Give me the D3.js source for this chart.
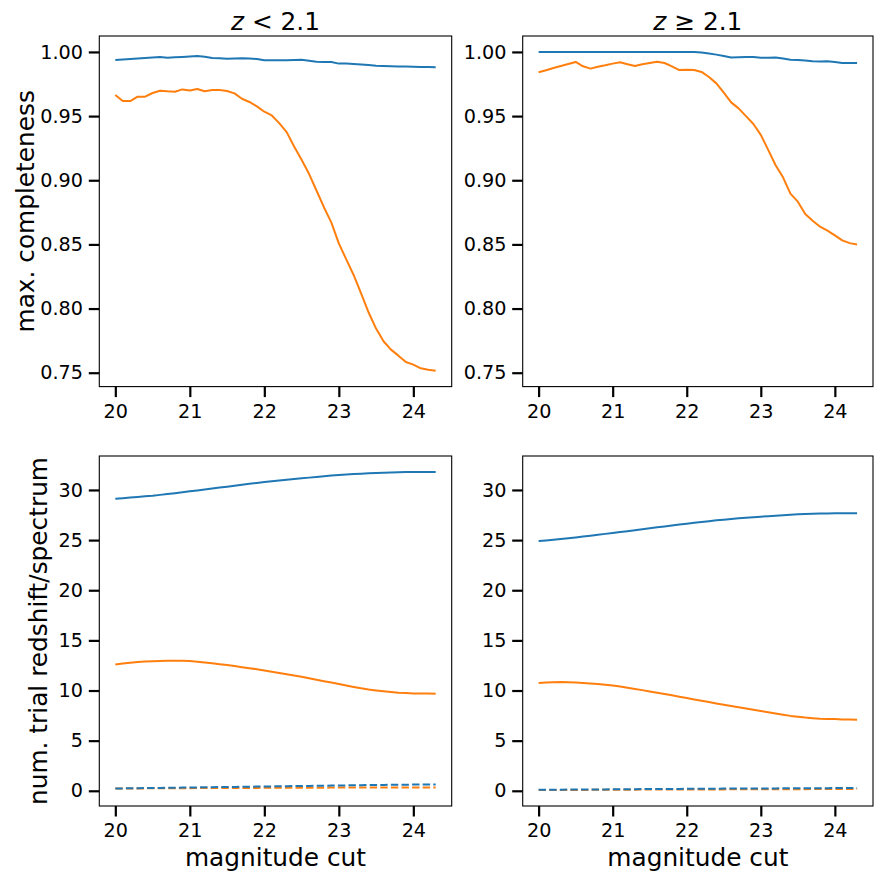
<!DOCTYPE html>
<meta charset="utf-8">
<body style="margin:0;background-color:white;">
<svg width="883" height="881"></svg>
<script src="https://d3js.org/d3.v7.min.js"></script>
<script>

// magnitude cuts (x values, shared by every panel)
var magCuts = [20.0, 20.1, 20.2, 20.3, 20.4, 20.5, 20.6, 20.7, 20.8, 20.9,
               21.0, 21.1, 21.2, 21.3, 21.4, 21.5, 21.6, 21.7, 21.8, 21.9,
               22.0, 22.1, 22.2, 22.3, 22.4, 22.5, 22.6, 22.7, 22.8, 22.9,
               23.0, 23.1, 23.2, 23.3, 23.4, 23.5, 23.6, 23.7, 23.8, 23.9,
               24.0, 24.1, 24.2, 24.3];

// max. completeness, z < 2.1
var complLowBlue = [0.9938, 0.9941, 0.9945, 0.9948, 0.9952, 0.9956, 0.9960, 0.9955, 0.9958, 0.9961,
                    0.9965, 0.9968, 0.9963, 0.9953, 0.9951, 0.9946, 0.9948, 0.9950, 0.9949, 0.9945,
                    0.9935, 0.9935, 0.9935, 0.9936, 0.9938, 0.9940, 0.9932, 0.9924, 0.9922, 0.9921,
                    0.9909, 0.9909, 0.9906, 0.9902, 0.9898, 0.9893, 0.9891, 0.9889, 0.9886, 0.9886,
                    0.9885, 0.9883, 0.9882, 0.9881];
var complLowOrange = [0.9664, 0.9617, 0.9617, 0.9651, 0.9651, 0.9680, 0.9698, 0.9693, 0.9690, 0.9708,
                      0.9700, 0.9711, 0.9693, 0.9703, 0.9703, 0.9695, 0.9677, 0.9635, 0.9610, 0.9576,
                      0.9534, 0.9505, 0.9445, 0.9375, 0.9263, 0.9159, 0.9050, 0.8920, 0.8790, 0.8670,
                      0.8508, 0.8383, 0.8260, 0.8117, 0.7969, 0.7844, 0.7745, 0.7680, 0.7633, 0.7583,
                      0.7563, 0.7534, 0.7523, 0.7516];

// max. completeness, z >= 2.1
var complHighBlue = [1.0, 1.0, 1.0, 1.0, 1.0, 1.0, 1.0, 1.0, 1.0, 1.0,
                     1.0, 1.0, 1.0, 1.0, 1.0, 1.0, 1.0, 1.0, 1.0, 1.0,
                     1.0, 1.0, 0.9995, 0.9987, 0.9979, 0.9968, 0.9956, 0.9958, 0.9961, 0.9961,
                     0.9954, 0.9954, 0.9957, 0.9948, 0.9940, 0.9938, 0.9933, 0.9927, 0.9925, 0.9927,
                     0.9922, 0.9914, 0.9914, 0.9914];
var complHighOrange = [0.9841, 0.9857, 0.9875, 0.9890, 0.9906, 0.9922, 0.9888, 0.9870, 0.9885, 0.9896,
                       0.9909, 0.9919, 0.9904, 0.9890, 0.9904, 0.9914, 0.9924, 0.9914, 0.9888, 0.9859,
                       0.9862, 0.9859, 0.9844, 0.9805, 0.9755, 0.9682, 0.9607, 0.9560, 0.9500, 0.9438,
                       0.9354, 0.9237, 0.9117, 0.9023, 0.8896, 0.8833, 0.8737, 0.8685, 0.8638, 0.8607,
                       0.8570, 0.8531, 0.8510, 0.8500];

// num. trial redshift/spectrum, z < 2.1
var trialLowBlue = [29.13, 29.18, 29.24, 29.30, 29.37, 29.43, 29.51, 29.60, 29.68, 29.77,
                    29.86, 29.95, 30.05, 30.14, 30.24, 30.33, 30.43, 30.52, 30.61, 30.70,
                    30.79, 30.87, 30.95, 31.02, 31.09, 31.16, 31.23, 31.30, 31.37, 31.43,
                    31.49, 31.54, 31.58, 31.62, 31.66, 31.69, 31.72, 31.74, 31.76, 31.78,
                    31.79, 31.80, 31.80, 31.80];
var trialLowOrange = [12.60, 12.70, 12.78, 12.85, 12.90, 12.93, 12.95, 12.97, 12.97, 12.96,
                      12.94, 12.88, 12.80, 12.72, 12.63, 12.54, 12.44, 12.33, 12.23, 12.12,
                      12.00, 11.88, 11.75, 11.62, 11.50, 11.37, 11.23, 11.08, 10.93, 10.79,
                      10.64, 10.50, 10.36, 10.22, 10.10, 10.01, 9.93, 9.85, 9.78, 9.74,
                      9.71, 9.70, 9.69, 9.68];
var trialLowBlueDash = [0.23, 0.24, 0.25, 0.26, 0.27, 0.28, 0.29, 0.30, 0.31, 0.32,
                        0.33, 0.34, 0.35, 0.36, 0.37, 0.38, 0.39, 0.40, 0.41, 0.42,
                        0.43, 0.44, 0.45, 0.46, 0.47, 0.48, 0.49, 0.50, 0.51, 0.52,
                        0.53, 0.54, 0.55, 0.56, 0.57, 0.58, 0.59, 0.60, 0.60, 0.61,
                        0.62, 0.62, 0.63, 0.63];
var trialLowOrangeDash = [0.23, 0.23, 0.24, 0.24, 0.24, 0.25, 0.25, 0.25, 0.26, 0.26,
                          0.26, 0.27, 0.27, 0.27, 0.28, 0.28, 0.28, 0.29, 0.29, 0.29,
                          0.30, 0.30, 0.30, 0.30, 0.31, 0.31, 0.31, 0.31, 0.31, 0.32,
                          0.32, 0.32, 0.32, 0.32, 0.32, 0.33, 0.33, 0.33, 0.33, 0.33,
                          0.33, 0.33, 0.33, 0.33];

// num. trial redshift/spectrum, z >= 2.1
var trialHighBlue = [24.91, 24.97, 25.04, 25.12, 25.19, 25.27, 25.36, 25.44, 25.53, 25.62,
                     25.71, 25.80, 25.89, 25.99, 26.08, 26.17, 26.27, 26.36, 26.46, 26.55,
                     26.64, 26.72, 26.81, 26.89, 26.97, 27.04, 27.11, 27.17, 27.23, 27.29,
                     27.34, 27.39, 27.44, 27.49, 27.53, 27.57, 27.60, 27.63, 27.65, 27.66,
                     27.67, 27.68, 27.68, 27.68];
var trialHighOrange = [10.74, 10.79, 10.82, 10.84, 10.83, 10.81, 10.76, 10.71, 10.65, 10.58,
                       10.51, 10.40, 10.28, 10.16, 10.04, 9.91, 9.78, 9.65, 9.52, 9.38,
                       9.25, 9.11, 8.98, 8.85, 8.71, 8.58, 8.45, 8.33, 8.20, 8.08,
                       7.95, 7.83, 7.70, 7.58, 7.47, 7.38, 7.30, 7.24, 7.19, 7.16,
                       7.15, 7.12, 7.10, 7.08];
var trialHighBlueDash = [0.10, 0.10, 0.11, 0.11, 0.12, 0.12, 0.13, 0.13, 0.14, 0.14,
                         0.15, 0.15, 0.16, 0.16, 0.17, 0.17, 0.18, 0.18, 0.19, 0.19,
                         0.20, 0.20, 0.21, 0.21, 0.21, 0.22, 0.22, 0.23, 0.23, 0.23,
                         0.24, 0.24, 0.24, 0.25, 0.25, 0.25, 0.26, 0.26, 0.26, 0.26,
                         0.27, 0.27, 0.27, 0.27];
var trialHighOrangeDash = [0.07, 0.07, 0.08, 0.08, 0.08, 0.09, 0.09, 0.09, 0.10, 0.10,
                           0.10, 0.11, 0.11, 0.11, 0.12, 0.12, 0.12, 0.12, 0.13, 0.13,
                           0.13, 0.13, 0.14, 0.14, 0.14, 0.14, 0.15, 0.15, 0.15, 0.15,
                           0.15, 0.16, 0.16, 0.16, 0.16, 0.16, 0.16, 0.17, 0.17, 0.17,
                           0.17, 0.17, 0.17, 0.17];

var xTicks = [20, 21, 22, 23, 24];
var complTicks = [0.75, 0.80, 0.85, 0.90, 0.95, 1.00];
var trialTicks = [0, 5, 10, 15, 20, 25, 30];
var titles = ['<', '\u2265'];   // z < 2.1 , z >= 2.1

var blue = '#1f77b4', orange = '#ff7f0e';
var font = 'DejaVu Sans, sans-serif';

var svg = d3.select('svg');

// panel frames
var colX = [[99.3, 451.7], [522.7, 873]];
var rowY = [[36, 386.6], [456, 806]];

// matplotlib-like auto limits with 5% margin
function padExtent(arrays) {
  var all = [].concat.apply([], arrays);
  var lo = d3.min(all), hi = d3.max(all);
  var m = (hi - lo) * 0.05;
  return [lo - m, hi + m];
}

var xDom = padExtent([magCuts]);
var complDom = padExtent([complLowBlue, complLowOrange, complHighBlue, complHighOrange]);
var trialDom = padExtent([trialLowBlue, trialLowOrange, trialLowBlueDash, trialLowOrangeDash,
                          trialHighBlue, trialHighOrange, trialHighBlueDash, trialHighOrangeDash]);

var panels = [
  {row: 0, col: 0, dom: complDom, ticks: complTicks, fmt: d3.format('.2f'),
   series: [[complLowBlue, blue, false], [complLowOrange, orange, false]]},
  {row: 0, col: 1, dom: complDom, ticks: complTicks, fmt: d3.format('.2f'),
   series: [[complHighBlue, blue, false], [complHighOrange, orange, false]]},
  {row: 1, col: 0, dom: trialDom, ticks: trialTicks, fmt: d3.format('d'),
   series: [[trialLowBlue, blue, false], [trialLowOrange, orange, false],
            [trialLowOrangeDash, orange, true], [trialLowBlueDash, blue, true]]},
  {row: 1, col: 1, dom: trialDom, ticks: trialTicks, fmt: d3.format('d'),
   series: [[trialHighBlue, blue, false], [trialHighOrange, orange, false],
            [trialHighOrangeDash, orange, true], [trialHighBlueDash, blue, true]]}
];

panels.forEach(function(p) {
  var x = d3.scaleLinear().domain(xDom).range(colX[p.col]);
  var y = d3.scaleLinear().domain(p.dom).range([rowY[p.row][1], rowY[p.row][0]]);
  var g = svg.append('g');

  var line = d3.line()
               .x(function(d, i) { return x(magCuts[i]); })
               .y(function(d) { return y(d); });

  p.series.forEach(function(s) {
    g.append('path')
     .attr('d', line(s[0]))
     .attr('fill', 'none')
     .attr('stroke', s[1])
     .attr('stroke-width', 2)
     .attr('stroke-linejoin', 'round')
     .attr('stroke-dasharray', s[2] ? '7.4,3.2' : null);
  });

  // frame
  g.append('rect')
   .attr('x', colX[p.col][0]).attr('y', rowY[p.row][0])
   .attr('width', colX[p.col][1] - colX[p.col][0])
   .attr('height', rowY[p.row][1] - rowY[p.row][0])
   .attr('fill', 'none').attr('stroke', 'black').attr('stroke-width', 1.1);

  var xAxis = g.append('g')
               .attr('transform', 'translate(0,' + rowY[p.row][1] + ')')
               .call(d3.axisBottom(x).tickValues(xTicks).tickFormat(d3.format('d'))
                       .tickSize(10.5).tickPadding(7));
  var yAxis = g.append('g')
               .attr('transform', 'translate(' + colX[p.col][0] + ',0)')
               .call(d3.axisLeft(y).tickValues(p.ticks).tickFormat(p.fmt).tickSize(10.5).tickPadding(5.8));

  [xAxis, yAxis].forEach(function(a) {
    a.select('.domain').remove();
    a.selectAll('.tick line').attr('stroke', 'black').attr('stroke-width', 2.2);
    a.selectAll('.tick text').attr('fill', 'black')
     .style('font-family', font).style('font-size', '19.2px');
  });
});

// column titles
colX.forEach(function(cx, i) {
  var t = svg.append('text')
             .attr('x', (cx[0] + cx[1]) / 2)
             .attr('y', 29.5)
             .attr('text-anchor', 'middle')
             .style('font-family', font).style('font-size', '24.8px');
  t.append('tspan').style('font-style', 'italic').text('z');
  t.append('tspan').text(' ' + titles[i] + ' 2.1');
});

// x labels
colX.forEach(function(cx) {
  svg.append('text')
     .attr('x', (cx[0] + cx[1]) / 2)
     .attr('y', 866)
     .attr('text-anchor', 'middle')
     .style('font-family', font).style('font-size', '24.8px')
     .text('magnitude cut');
});

// y labels
var yLabels = [['max. completeness', 33.5], ['num. trial redshift/spectrum', 46.5]];
yLabels.forEach(function(l, i) {
  var cy = (rowY[i][0] + rowY[i][1]) / 2;
  svg.append('text')
     .attr('transform', 'translate(' + l[1] + ',' + cy + ')rotate(-90)')
     .attr('text-anchor', 'middle')
     .style('font-family', font).style('font-size', '24.8px')
     .text(l[0]);
});

</script>
</body>
